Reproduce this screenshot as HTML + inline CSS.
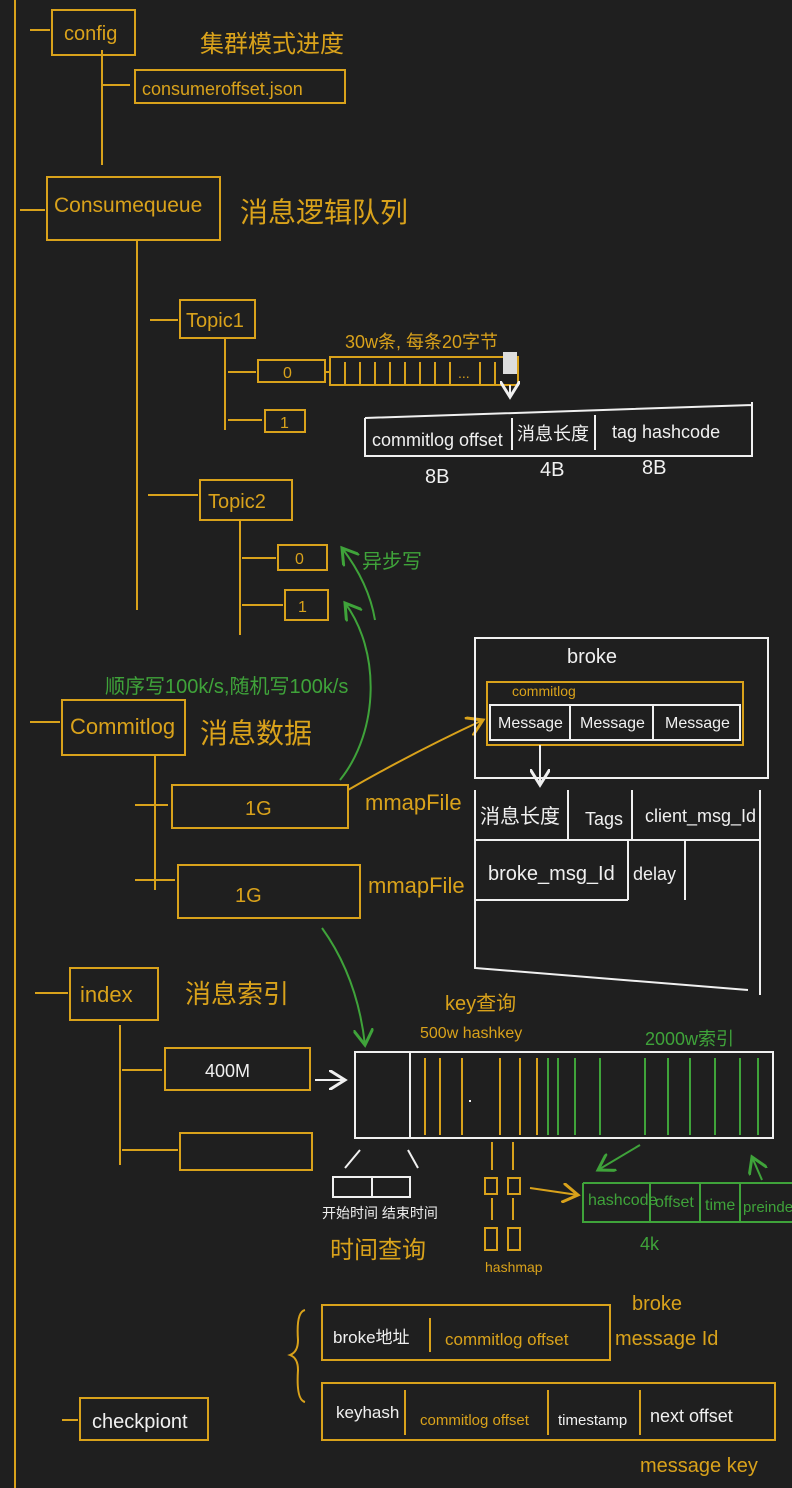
<!DOCTYPE html>
<html><head><meta charset="utf-8"><style>
html,body{margin:0;padding:0;background:#1f1f1f;}
svg{display:block}
text{font-family:"Liberation Sans","Noto Sans CJK SC",sans-serif;}
.o{stroke:#d9a21b;fill:none;stroke-width:2}
.w{stroke:#f0f0f0;fill:none;stroke-width:2}
.g{stroke:#3fa33a;fill:none;stroke-width:2}
.to{fill:#d9a21b}.tw{fill:#f0f0f0}.tg{fill:#3fa33a}
</style></head><body>
<svg width="792" height="1488" viewBox="0 0 792 1488" xmlns="http://www.w3.org/2000/svg">
<defs>
<marker id="aw" markerWidth="10" markerHeight="10" refX="8" refY="5" orient="auto"><path d="M0,0 L8,5 L0,10" fill="none" stroke="#f0f0f0" stroke-width="1.5"/></marker>
<marker id="ag" markerWidth="10" markerHeight="10" refX="8" refY="5" orient="auto"><path d="M0,0 L8,5 L0,10" fill="none" stroke="#3fa33a" stroke-width="1.5"/></marker>
<marker id="ao" markerWidth="10" markerHeight="10" refX="8" refY="5" orient="auto"><path d="M0,0 L8,5 L0,10" fill="none" stroke="#d9a21b" stroke-width="1.5"/></marker>
</defs>
<path class="o" d="M15 0 L15 1488"/>
<path class="o" d="M30 30 L50 30"/>
<rect class="o" x="52" y="10" width="83" height="45"/>
<text class="to" x="64" y="40" font-size="20">config</text>
<text class="to" x="200" y="52" font-size="24">集群模式进度</text>
<path class="o" d="M102 50 L102 165 M102 85 L130 85"/>
<rect class="o" x="135" y="70" width="210" height="33"/>
<text class="to" x="142" y="95" font-size="18">consumeroffset.json</text>
<path class="o" d="M20 210 L45 210"/>
<rect class="o" x="47" y="177" width="173" height="63"/>
<text class="to" x="54" y="212" font-size="21">Consumequeue</text>
<text class="to" x="240" y="222" font-size="28">消息逻辑队列</text>
<path class="o" d="M137 240 L137 610 M150 320 L178 320"/>
<rect class="o" x="180" y="300" width="75" height="38"/>
<text class="to" x="186" y="327" font-size="20">Topic1</text>
<path class="o" d="M225 338 L225 430 M228 372 L256 372 M228 420 L262 420"/>
<rect class="o" x="258" y="360" width="67" height="22"/>
<text class="to" x="283" y="378" font-size="16">0</text>
<rect class="o" x="265" y="410" width="40" height="22"/>
<text class="to" x="280" y="428" font-size="16">1</text>
<path class="o" d="M325 372 L330 372"/>
<rect class="o" x="330" y="357" width="188" height="28"/>
<path class="o" d="M345 362 V385 M360 362 V385 M375 362 V385 M390 362 V385 M405 362 V385 M420 362 V385 M435 362 V385 M450 362 V385 M480 362 V385 M495 362 V385"/>
<rect x="503" y="352" width="14" height="22" fill="#ddd"/>
<text class="to" x="458" y="378" font-size="14">...</text>
<text class="to" x="345" y="348" font-size="18">30w条, 每条20字节</text>
<path class="w" d="M510 385 L510 397" marker-end="url(#aw)"/>
<path class="w" d="M365 418 L365 456 L752 456 L752 402 M365 418 L752 405 M512 418 L512 450 M595 415 L595 450"/>
<text class="tw" x="372" y="446" font-size="18">commitlog offset</text>
<text class="tw" x="517" y="440" font-size="18">消息长度</text>
<text class="tw" x="612" y="438" font-size="18">tag hashcode</text>
<text class="tw" x="425" y="483" font-size="20">8B</text>
<text class="tw" x="540" y="476" font-size="20">4B</text>
<text class="tw" x="642" y="474" font-size="20">8B</text>
<path class="o" d="M148 495 L198 495"/>
<rect class="o" x="200" y="480" width="92" height="40"/>
<text class="to" x="208" y="508" font-size="20">Topic2</text>
<path class="o" d="M240 520 L240 635 M242 558 L276 558 M242 605 L283 605"/>
<rect class="o" x="278" y="545" width="49" height="25"/>
<text class="to" x="295" y="564" font-size="16">0</text>
<rect class="o" x="285" y="590" width="43" height="30"/>
<text class="to" x="298" y="612" font-size="16">1</text>
<path class="g" d="M340 780 C380 730 380 650 345 603" marker-end="url(#ag)"/>
<path class="g" d="M375 620 C370 590 355 565 342 548" marker-end="url(#ag)"/>
<text class="tg" x="362" y="568" font-size="20">异步写</text>
<text class="tg" x="105" y="693" font-size="20">顺序写100k/s,随机写100k/s</text>
<path class="o" d="M30 722 L60 722"/>
<rect class="o" x="62" y="700" width="123" height="55"/>
<text class="to" x="70" y="734" font-size="22">Commitlog</text>
<text class="to" x="200" y="743" font-size="28">消息数据</text>
<path class="o" d="M155 755 L155 890 M135 805 L168 805 M135 880 L175 880"/>
<rect class="o" x="172" y="785" width="176" height="43"/>
<text class="to" x="245" y="815" font-size="20">1G</text>
<rect class="o" x="178" y="865" width="182" height="53"/>
<text class="to" x="235" y="902" font-size="20">1G</text>
<text class="to" x="365" y="810" font-size="22">mmapFile</text>
<text class="to" x="368" y="893" font-size="22">mmapFile</text>
<path class="o" d="M348 790 C400 760 440 740 483 720" marker-end="url(#ao)"/>
<rect class="w" x="475" y="638" width="293" height="140"/>
<text class="tw" x="567" y="663" font-size="20">broke</text>
<rect class="o" x="487" y="682" width="256" height="63" stroke-width="3"/>
<text class="to" x="512" y="696" font-size="14">commitlog</text>
<path class="w" d="M490 705 L740 705 L740 740 L490 740 Z M570 705 V740 M653 705 V740"/>
<text class="tw" x="498" y="728" font-size="16">Message</text>
<text class="tw" x="580" y="728" font-size="16">Message</text>
<text class="tw" x="665" y="728" font-size="16">Message</text>
<path class="w" d="M540 745 L540 785" marker-end="url(#aw)"/>
<path class="w" d="M475 790 L475 968 L748 990 M760 790 L760 995 M475 840 L760 840 M568 790 V840 M632 790 V840 M475 900 L628 900 M628 840 V900 M685 840 V900"/>
<text class="tw" x="480" y="823" font-size="20">消息长度</text>
<text class="tw" x="585" y="825" font-size="18">Tags</text>
<text class="tw" x="645" y="822" font-size="18">client_msg_Id</text>
<text class="tw" x="488" y="880" font-size="20">broke_msg_Id</text>
<text class="tw" x="633" y="880" font-size="18">delay</text>
<path class="g" d="M322 928 C345 960 360 1000 365 1045" marker-end="url(#ag)"/>
<path class="o" d="M35 993 L68 993"/>
<rect class="o" x="70" y="968" width="88" height="52"/>
<text class="to" x="80" y="1002" font-size="22">index</text>
<text class="to" x="185" y="1003" font-size="26">消息索引</text>
<path class="o" d="M120 1025 L120 1165 M122 1070 L162 1070 M122 1150 L178 1150"/>
<rect class="o" x="165" y="1048" width="145" height="42"/>
<text class="tw" x="205" y="1077" font-size="18">400M</text>
<rect class="o" x="180" y="1133" width="132" height="37"/>
<path class="w" d="M315 1080 L345 1080" marker-end="url(#aw)"/>
<text class="to" x="445" y="1010" font-size="20">key查询</text>
<text class="to" x="420" y="1038" font-size="16">500w hashkey</text>
<text class="tg" x="645" y="1045" font-size="18">2000w索引</text>
<rect class="w" x="355" y="1052" width="418" height="86"/>
<path class="w" d="M410 1052 V1138 M470 1100 V1102"/>
<path class="o" d="M425 1058 V1135 M440 1058 V1135 M462 1058 V1135 M500 1058 V1135 M520 1058 V1135 M537 1058 V1135"/>
<path class="g" d="M548 1058 V1135 M558 1058 V1135 M575 1058 V1135 M600 1058 V1135 M645 1058 V1135 M668 1058 V1135 M690 1058 V1135 M715 1058 V1135 M740 1058 V1135 M758 1058 V1135"/>
<path class="w" d="M360 1150 L345 1168 M408 1150 L418 1168"/>
<rect class="w" x="333" y="1177" width="77" height="20"/>
<path class="w" d="M372 1177 V1197"/>
<text class="tw" x="322" y="1218" font-size="14">开始时间 结束时间</text>
<text class="to" x="330" y="1258" font-size="24">时间查询</text>
<path class="o" d="M492 1142 V1170 M513 1142 V1170"/>
<rect class="o" x="485" y="1178" width="12" height="16"/><rect class="o" x="508" y="1178" width="12" height="16"/>
<path class="o" d="M492 1198 V1220 M513 1198 V1220"/>
<rect class="o" x="485" y="1228" width="12" height="22"/><rect class="o" x="508" y="1228" width="12" height="22"/>
<text class="to" x="485" y="1272" font-size="14">hashmap</text>
<path class="o" d="M530 1188 L578 1195" marker-end="url(#ao)"/>
<path class="g" d="M640 1145 L598 1170" marker-end="url(#ag)"/>
<path class="g" d="M762 1180 L752 1157" marker-end="url(#ag)"/>
<path class="g" d="M583 1183 L792 1183 M583 1183 L583 1222 L792 1222 M650 1183 V1222 M700 1183 V1222 M740 1183 V1222"/>
<text class="tg" x="588" y="1205" font-size="16">hashcode</text>
<text class="tg" x="655" y="1207" font-size="16">offset</text>
<text class="tg" x="705" y="1210" font-size="16">time</text>
<text class="tg" x="743" y="1212" font-size="15">preindex</text>
<text class="tg" x="640" y="1250" font-size="18">4k</text>
<path class="o" d="M305 1310 Q296 1312 298 1340 Q298 1352 290 1355 Q298 1358 298 1370 Q296 1400 305 1402"/>
<rect class="o" x="322" y="1305" width="288" height="55"/>
<path class="o" d="M430 1318 V1352"/>
<text class="tw" x="333" y="1343" font-size="17">broke地址</text>
<text class="to" x="445" y="1345" font-size="17">commitlog offset</text>
<text class="to" x="632" y="1310" font-size="20">broke</text>
<text class="to" x="615" y="1345" font-size="20">message Id</text>
<rect class="o" x="322" y="1383" width="453" height="57"/>
<path class="o" d="M405 1390 V1435 M548 1390 V1435 M640 1390 V1435"/>
<text class="tw" x="336" y="1418" font-size="17">keyhash</text>
<text class="to" x="420" y="1425" font-size="15">commitlog offset</text>
<text class="tw" x="558" y="1425" font-size="15">timestamp</text>
<text class="tw" x="650" y="1422" font-size="18">next offset</text>
<text class="to" x="640" y="1472" font-size="20">message key</text>
<path class="o" d="M62 1420 L78 1420"/>
<rect class="o" x="80" y="1398" width="128" height="42"/>
<text class="tw" x="92" y="1428" font-size="20">checkpiont</text>
</svg>
</body></html>
